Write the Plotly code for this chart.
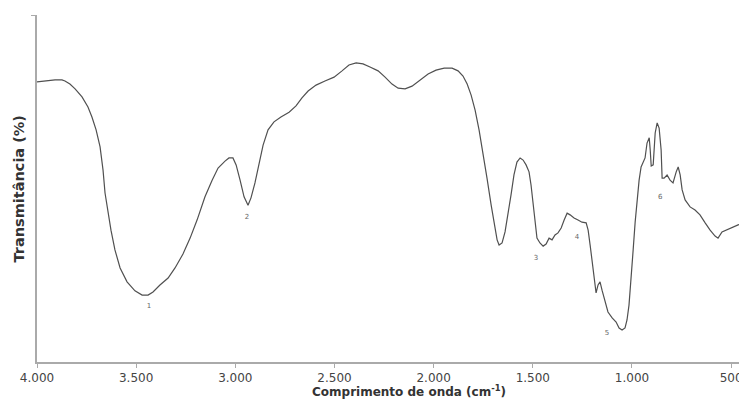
import plotly.graph_objects as go

wavenumber = [4000, 3960, 3909, 3874, 3859, 3834, 3808, 3773, 3743, 3723, 3702, 3682, 3667, 3657, 3642,
              3627, 3607, 3581, 3546, 3506, 3470, 3440, 3415, 3380, 3339, 3304, 3264, 3228, 3193, 3153,
              3117, 3087, 3052, 3032, 3012, 2996, 2976, 2956, 2936, 2921, 2901, 2880, 2860, 2835, 2805,
              2770, 2729, 2694, 2664, 2633, 2593, 2548, 2502, 2462, 2427, 2391, 2356, 2321, 2280, 2245,
              2210, 2179, 2144, 2109, 2068, 2028, 1988, 1947, 1907, 1877, 1852, 1831, 1811, 1791, 1771,
              1751, 1731, 1710, 1695, 1680, 1670, 1655, 1640, 1625, 1610, 1595, 1580, 1564, 1549, 1534,
              1519, 1509, 1499, 1489, 1479, 1464, 1448, 1433, 1418, 1403, 1388, 1373, 1357, 1342, 1327,
              1312, 1292, 1272, 1252, 1231, 1221, 1211, 1201, 1191, 1181, 1171, 1161, 1151, 1136, 1121,
              1100, 1080, 1065, 1050, 1035, 1025, 1015, 1004, 994, 984, 974, 964, 954, 944, 934,
              924, 913, 908, 903, 893, 883, 873, 863, 853, 848, 838, 823, 808, 793, 777,
              767, 757, 747, 732, 707, 682, 657, 631, 606, 581, 566, 546, 526, 505, 485,
              465, 445, 425]
transmittance = [80.7, 81.0, 81.3, 81.3, 81.0, 80.1, 78.7, 76.4, 73.5, 70.6, 66.9, 62.0, 55.3, 48.7, 42.9,
                 38.0, 32.3, 27.1, 23.1, 20.5, 19.3, 19.3, 20.2, 22.2, 24.2, 27.1, 31.1, 35.7, 40.9, 47.6,
                 52.4, 55.9, 57.9, 58.8, 58.8, 56.8, 52.4, 47.6, 45.2, 47.3, 51.6, 56.8, 62.5, 66.9, 69.2,
                 70.6, 72.0, 73.8, 76.1, 78.1, 79.8, 81.0, 82.1, 83.9, 85.6, 86.2, 85.9, 85.0, 83.9, 82.1,
                 80.1, 78.9, 78.7, 79.5, 81.3, 83.0, 84.1, 84.7, 84.7, 83.9, 82.4, 80.1, 76.9, 72.6, 66.9,
                 60.5, 53.0, 45.2, 39.5, 35.2, 33.7, 34.3, 37.5, 42.4, 48.1, 53.9, 57.6, 58.8, 58.2, 56.8,
                 54.8, 51.0, 45.2, 39.5, 35.7, 34.3, 33.4, 34.0, 35.7, 35.2, 36.6, 37.2, 38.6, 40.9, 42.9,
                 42.4, 41.5, 40.9, 40.3, 40.1, 38.0, 33.7, 28.8, 23.6, 19.9, 22.2, 23.1, 20.7, 17.3, 14.4,
                 12.7, 11.5, 9.8, 9.2, 9.8, 12.1, 16.4, 23.6, 32.3, 40.3, 46.7, 52.4, 56.2, 57.6, 58.8,
                 63.1, 64.6, 61.1, 56.5, 56.8, 66.0, 68.9, 67.4, 61.1, 53.0, 53.0, 53.9, 52.4, 51.6, 54.8,
                 56.2, 53.9, 49.6, 46.7, 44.7, 43.8, 42.4, 40.1, 38.0, 36.3, 35.7, 37.5, 38.0, 38.6, 39.2,
                 39.5, 39.8, 40.1]

band_labels = ["1", "2", "3", "4", "5", "6"]
band_x = [3435, 2941, 1484, 1277, 1126, 858]
band_y = [16.1, 41.8, 30.0, 36.0, 8.4, 47.6]

tick_vals = [4000, 3500, 3000, 2500, 2000, 1500, 1000, 500]
tick_text = ["4.000", "3.500", "3.000", "2.500", "2.000", "1.500", "1.000", "500"]

fig = go.Figure()
fig.add_trace(go.Scatter(x=wavenumber, y=transmittance, mode="lines",
                         line=dict(color="#505050", width=1.2), showlegend=False))
fig.add_trace(go.Scatter(x=band_x, y=band_y, mode="text", text=band_labels,
                         textfont=dict(family="DejaVu Sans", size=7, color="#666666"),
                         showlegend=False))

# The page body has an 8px margin, so the figure is sized and padded to compensate.
fig.update_layout(
    width=739, height=395,
    margin=dict(l=29, r=0, t=7, b=41, autoexpand=False),
    paper_bgcolor="white", plot_bgcolor="white",
    font=dict(family="DejaVu Sans", color="#444444"),
    xaxis=dict(range=[4000, 420], tickvals=tick_vals, ticktext=tick_text,
               showgrid=False, zeroline=False, showline=True, linecolor="#aaaaaa", linewidth=1.5,
               ticks="outside", ticklen=4, tickcolor="#aaaaaa", automargin=False,
               tickfont=dict(family="DejaVu Sans", size=12, color="#444444")),
    yaxis=dict(range=[0, 100], tickvals=[100], showticklabels=False,
               showgrid=False, zeroline=False, showline=True, linecolor="#aaaaaa", linewidth=1.5,
               ticks="outside", ticklen=4, tickcolor="#aaaaaa", automargin=False),
    annotations=[
        dict(text="<b>Comprimento de onda (cm<sup>-1</sup>)</b>", xref="paper", yref="paper",
             x=0.524, y=0, yshift=-29, xanchor="center", yanchor="middle", showarrow=False,
             font=dict(family="DejaVu Sans", size=12, color="#333333")),
        dict(text="<b>Transmitância (%)</b>", xref="paper", yref="paper",
             x=0, xshift=-19, y=0.5, xanchor="center", yanchor="middle", textangle=-90,
             showarrow=False, font=dict(family="DejaVu Sans", size=14.5, color="#333333")),
    ],
)

fig.write_html("out.html")
